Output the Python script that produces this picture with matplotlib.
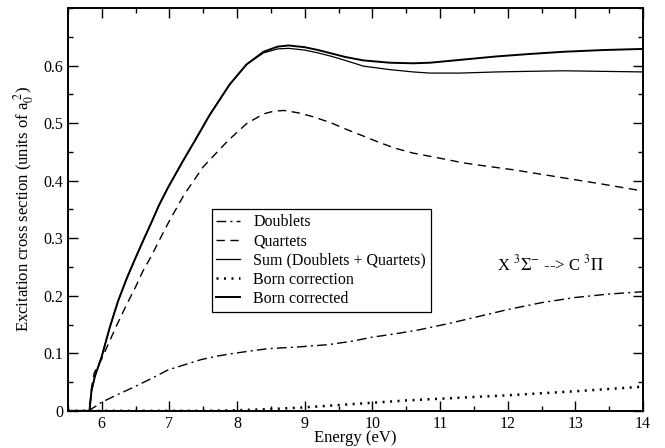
import matplotlib
matplotlib.use("Agg")
import matplotlib.pyplot as plt
from matplotlib.ticker import MultipleLocator, FuncFormatter

plt.rcParams["font.family"] = ["Liberation Serif", "DejaVu Serif"]
plt.rcParams["mathtext.fontset"] = "stix"

# -- Data ------------------------------------------------------------------
E_SUM = [5.5, 5.82, 5.85, 5.9, 6.0, 6.12, 6.24, 6.37, 6.49, 6.61, 6.73,
         6.85, 6.98, 7.2, 7.37, 7.6, 7.89, 8.14, 8.39, 8.6, 8.76, 9.0, 9.2,
         9.4, 9.6, 9.87, 10.26, 10.6, 10.85, 11.3, 11.84, 12.3, 12.82, 13.4,
         14.0]
BORN_CORRECTED = [0, 0, 0.035, 0.06, 0.094, 0.145, 0.19, 0.23, 0.263,
                  0.295, 0.326, 0.358, 0.388, 0.434, 0.468, 0.515, 0.567,
                  0.602, 0.624, 0.633, 0.635, 0.632, 0.627, 0.621, 0.615,
                  0.609, 0.605, 0.604, 0.605, 0.610, 0.616, 0.620, 0.624,
                  0.627, 0.629]
SUM_DQ = [0, 0, 0.035, 0.06, 0.094, 0.145, 0.19, 0.23, 0.263,
          0.295, 0.326, 0.358, 0.388, 0.434, 0.468, 0.515, 0.567, 0.602,
          0.622, 0.629, 0.630, 0.627, 0.622, 0.616, 0.609, 0.599,
          0.593, 0.589, 0.587, 0.587, 0.589, 0.590, 0.591, 0.590, 0.589]

E_Q = [5.5, 5.82, 5.85, 5.89, 6.0, 6.12, 6.24, 6.37, 6.5, 6.61, 6.73, 6.85,
       7.0, 7.22, 7.5, 7.87, 8.14, 8.39, 8.55, 8.7, 8.9, 9.13, 9.4, 9.62,
       9.9, 10.11, 10.35, 10.6, 11.0, 11.34, 11.7, 12.08, 12.45, 12.82,
       13.4, 14.0]
QUARTETS = [0, 0, 0.04, 0.066, 0.09, 0.122, 0.153, 0.185, 0.215, 0.243,
            0.268, 0.296, 0.330, 0.376, 0.424, 0.470, 0.499, 0.516, 0.521,
            0.522, 0.518, 0.511, 0.500, 0.489, 0.476, 0.466, 0.456, 0.448,
            0.439, 0.431, 0.425, 0.419, 0.412, 0.405, 0.394, 0.382]

E_D = [5.5, 5.8, 5.9, 6.0, 6.25, 6.49, 6.75, 6.98, 7.25, 7.47, 7.7, 7.96,
       8.2, 8.46, 8.9, 9.35, 9.7, 10.0, 10.35, 10.7, 11.1, 11.5, 12.0, 12.5,
       13.0, 13.5, 14.0]
DOUBLETS = [0, 0, 0.007, 0.015, 0.029, 0.042, 0.057, 0.071, 0.081, 0.089,
            0.095, 0.100, 0.104, 0.108, 0.111, 0.115, 0.121, 0.128, 0.134,
            0.141, 0.151, 0.162, 0.176, 0.188, 0.197, 0.203, 0.207]

E_B = [5.5, 5.82, 7.5, 8.0, 8.5, 9.0, 9.5, 10.0, 10.5, 11.0, 12.0, 13.0,
       14.0]
BORN_CORR = [0, 0, 0.0, 0.001, 0.003, 0.006, 0.010, 0.014, 0.018, 0.021,
             0.027, 0.034, 0.042]

# -- Figure ----------------------------------------------------------------
fig = plt.figure(figsize=(6.65, 4.48), dpi=100)
ax = fig.add_axes([0.102, 0.083, 0.865, 0.899])

ax.plot(E_D, DOUBLETS, color="black", lw=1.0,
        dashes=(7, 3, 1.5, 3), label="Doublets")
ax.plot(E_Q, QUARTETS, color="black", lw=1.0, dashes=(6, 4),
        label="Quartets")
ax.plot(E_SUM, SUM_DQ, color="black", lw=0.9,
        label="Sum (Doublets + Quartets)")
ax.plot(E_B, BORN_CORR, color="black", lw=1.8, dashes=(0.8, 2.2),
        label="Born correction")
ax.plot(E_SUM, BORN_CORRECTED, color="black", lw=1.4,
        label="Born corrected")

ax.set_xlim(5.5, 14)
ax.set_ylim(0, 0.7)
ax.xaxis.set_major_locator(MultipleLocator(1))
ax.xaxis.set_minor_locator(MultipleLocator(0.5))
ax.yaxis.set_major_locator(MultipleLocator(0.1))
ax.yaxis.set_minor_locator(MultipleLocator(0.05))
ax.yaxis.set_major_formatter(
    FuncFormatter(lambda v, p: "0" if abs(v) < 1e-9 else f"{v:.1f}"))
ax.set_yticks([0, 0.1, 0.2, 0.3, 0.4, 0.5, 0.6])
ax.tick_params(which="both", direction="in", top=True, right=True,
               labelsize=11.5)
ax.tick_params(which="major", length=7, width=1)
ax.tick_params(which="minor", length=3.5, width=1)
for s in ax.spines.values():
    s.set_linewidth(1.4)

ax.set_xlabel("Energy (eV)", fontsize=12, labelpad=-1)
ax.set_ylabel(r"Excitation cross section (units of a$_0^{\ 2}$)",
              fontsize=12, labelpad=5)

leg = ax.legend(loc="upper left", bbox_to_anchor=(0.25, 0.5),
                fontsize=11.5, frameon=True, fancybox=False,
                edgecolor="black", framealpha=1, borderpad=0.3,
                labelspacing=0.2, handlelength=1.45, handletextpad=0.85,
                borderaxespad=0)
leg.get_frame().set_linewidth(0.9)

ax.text(11.84, 0.254, r"X $^3\Sigma^{-}$ --> C $^3\Pi$", fontsize=12,
        va="center", ha="left")

fig.savefig("out.png", dpi=100, facecolor="white")
